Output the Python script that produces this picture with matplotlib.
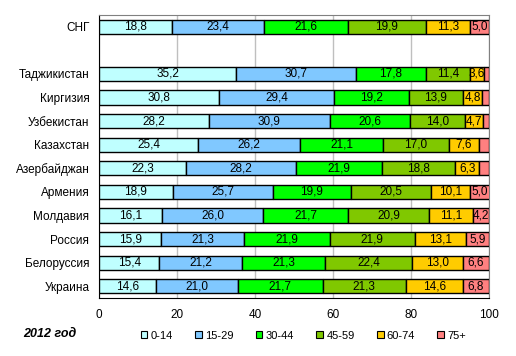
import matplotlib.pyplot as plt
import numpy as np
from matplotlib.patches import Patch

plt.rcParams['font.family'] = ['Liberation Sans', 'DejaVu Sans']

countries = ['СНГ', 'Таджикистан', 'Киргизия', 'Узбекистан', 'Казахстан', 'Азербайджан',
             'Армения', 'Молдавия', 'Россия', 'Белоруссия', 'Украина']
groups = ['0-14', '15-29', '30-44', '45-59', '60-74', '75+']
colors = ['#BFFFFF', '#80C8FF', '#00FF00', '#80C800', '#FFCC00', '#FF8080']

age_0_14 = [18.8, 35.2, 30.8, 28.2, 25.4, 22.3, 18.9, 16.1, 15.9, 15.4, 14.6]
age_15_29 = [23.4, 30.7, 29.4, 30.9, 26.2, 28.2, 25.7, 26.0, 21.3, 21.2, 21.0]
age_30_44 = [21.6, 17.8, 19.2, 20.6, 21.1, 21.9, 19.9, 21.7, 21.9, 21.3, 21.7]
age_45_59 = [19.9, 11.4, 13.9, 14.0, 17.0, 18.8, 20.5, 20.9, 21.9, 22.4, 21.3]
age_60_74 = [11.3, 3.6, 4.8, 4.7, 7.6, 6.3, 10.1, 11.1, 13.1, 13.0, 14.6]
age_75 = [5.0, 1.3, 1.9, 1.6, 2.7, 2.5, 5.0, 4.2, 5.9, 6.6, 6.8]

series = [age_0_14, age_15_29, age_30_44, age_45_59, age_60_74, age_75]

# row slots: СНГ on top, then one empty slot, then the countries
ypos = np.array([11] + list(range(9, -1, -1)), dtype=float)

fig = plt.figure(figsize=(5.16, 3.56), dpi=100)
ax = fig.add_axes([0.192, 0.163, 0.756, 0.795])

left = np.zeros(len(countries))
for vals, col in zip(series, colors):
    vals = np.array(vals)
    ax.barh(ypos, vals, left=left, height=0.6, color=col, edgecolor='black',
            linewidth=1, zorder=3)
    for y, l, v in zip(ypos, left, vals):
        if v >= 3:
            ax.text(l + v / 2, y, f'{v:.1f}'.replace('.', ','), ha='center',
                    va='center', fontsize=8.5, zorder=4)
    left += vals

ax.set_xlim(0, 100)
ax.set_ylim(-0.5, 11.5)
ax.set_xticks(range(0, 101, 20))
ax.set_yticks(ypos)
ax.set_yticklabels(countries)
ax.tick_params(length=0, labelsize=8.5, pad=7)
ax.tick_params(axis='x', pad=8)
ax.grid(axis='x', color='#BFBFBF', linewidth=1, zorder=0)
for s in ['top', 'right']:
    ax.spines[s].set_color('#808080')
for s in ['left', 'bottom']:
    ax.spines[s].set_color('black')

handles = [Patch(facecolor=c, edgecolor='black', linewidth=0.8) for c in colors]
fig.legend(handles, groups, loc='center', bbox_to_anchor=(0.588, 0.057), ncol=6,
           frameon=False, fontsize=8, handlelength=0.6, handleheight=0.6,
           handletextpad=0.3, columnspacing=2.0)
fig.text(0.045, 0.062, '2012 год', fontsize=9, fontweight='bold', style='italic',
         va='center')

fig.savefig('out.png', dpi=100)
